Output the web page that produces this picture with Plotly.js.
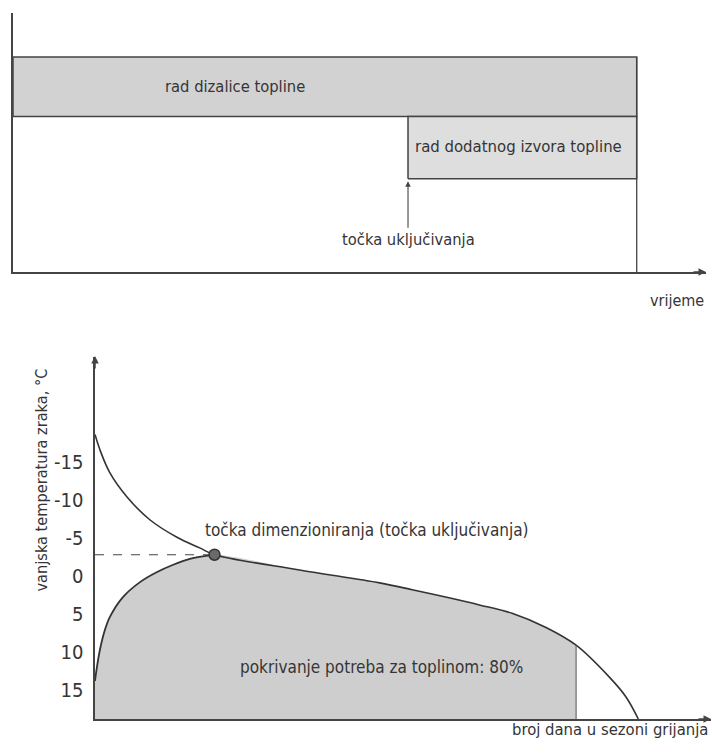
<!DOCTYPE html>
<html><head><meta charset="utf-8">
<script src="https://cdn.plot.ly/plotly-3.0.1.min.js"></script>
<style>html,body{margin:0;padding:0;background:#fff}</style>
</head><body><div id="chart" style="width:712px;height:754px"></div>
<script>
// ---------- data: top panel (operating phases over time) ----------
const phaseLabels = ['rad dizalice topline', 'rad dodatnog izvora topline'];
const phaseStart = [0, 57];
const phaseEnd = [90, 90];
const phaseLow = [60, 36];
const phaseHigh = [83, 60];
const switchLabel = 'točka uključivanja';
const switchTime = 57;

// ---------- data: bottom panel (temperature duration curve) ----------
const tempTicks = [-15, -10, -5, 0, 5, 10, 15];
const upperDays = [0, 0.8, 2.4, 5.2, 8.9, 13.3, 17, 19.4, 33.2, 46.2, 51.5, 57.1, 62.4, 67.7, 73.3, 78.1, 83.5, 86.2, 88.2];
const upperTemp = [-18.6, -16.6, -13.6, -10.4, -7.4, -5.1, -3.7, -2.8, -0.8, 0.9, 1.8, 2.8, 3.8, 4.9, 6.8, 9.1, 13.3, 15.9, 18.8];
const lowerDays = [0, 0.16, 0.8, 1.6, 2.4, 4.5, 7.3, 10.0, 12.6, 15.4, 19.4];
const lowerTemp = [13.8, 12.8, 9.7, 7.1, 5.4, 2.8, 0.8, -0.5, -1.45, -2.25, -2.8];
const designDay = 19.4;
const designTemp = -2.8;
const coverageDay = 78.1;
const coverageTemp = 9.1;
const coverageLabel = 'pokrivanje potreba za toplinom: 80%';
const designLabel = 'točka dimenzioniranja (točka uključivanja)';
const yTitle = 'vanjska temperatura zraka, °C';
const xTitleTop = 'vrijeme';
const xTitleBottom = 'broj dana u sezoni grijanja';

// ---------- styles ----------
const FONT = '"Liberation Sans Narrow", "DejaVu Sans Condensed", "Roboto Condensed", "Arial Narrow", sans-serif';
const TXT = '#353535';
const LINE = '#444';
const phaseColors = ['#d2d2d2', '#dedede'];
const W = 712, H = 754;
const px = v => v / W;
const py = v => 1 - v / H;

const Y2MAX = 18.8, Y2MIN = -28.8;

const traces = [];
// phase boxes
for (let i = 0; i < phaseLabels.length; i++) {
  traces.push({
    type: 'scatter', mode: 'lines', xaxis: 'x', yaxis: 'y',
    x: [phaseStart[i], phaseEnd[i], phaseEnd[i], phaseStart[i], phaseStart[i]],
    y: [phaseLow[i], phaseLow[i], phaseHigh[i], phaseHigh[i], phaseLow[i]],
    fill: 'toself', fillcolor: phaseColors[i],
    line: {color: LINE, width: 1.5}, hoverinfo: 'skip'
  });
}
// right end boundary line
traces.push({
  type: 'scatter', mode: 'lines', xaxis: 'x', yaxis: 'y',
  x: [phaseEnd[0], phaseEnd[0]], y: [0, phaseHigh[0]],
  line: {color: LINE, width: 1.3}, hoverinfo: 'skip'
});

// bottom: covered area = region between the x-axis and the boundary curve
const boundX = lowerDays.slice();
const boundY = lowerTemp.slice();
for (let i = 0; i < upperDays.length; i++) {
  if (upperDays[i] > designDay && upperDays[i] <= coverageDay) { boundX.push(upperDays[i]); boundY.push(upperTemp[i]); }
}
traces.push({
  type: 'scatter', mode: 'lines', xaxis: 'x2', yaxis: 'y2',
  x: [0, coverageDay], y: [Y2MAX, Y2MAX],
  line: {width: 0, color: 'rgba(0,0,0,0)'}, hoverinfo: 'skip'
});
traces.push({
  type: 'scatter', mode: 'lines', xaxis: 'x2', yaxis: 'y2',
  x: boundX, y: boundY, fill: 'tonexty', fillcolor: '#cecece',
  line: {width: 0, color: 'rgba(0,0,0,0)', shape: 'spline', smoothing: 0.9}, hoverinfo: 'skip'
});
// lower curve
traces.push({
  type: 'scatter', mode: 'lines', xaxis: 'x2', yaxis: 'y2',
  x: lowerDays, y: lowerTemp,
  line: {color: '#333', width: 1.8, shape: 'spline', smoothing: 0.9}, hoverinfo: 'skip'
});
// upper curve
traces.push({
  type: 'scatter', mode: 'lines', xaxis: 'x2', yaxis: 'y2',
  x: upperDays, y: upperTemp,
  line: {color: '#333', width: 1.6, shape: 'spline', smoothing: 1.0}, hoverinfo: 'skip'
});
// dashed design line
traces.push({
  type: 'scatter', mode: 'lines', xaxis: 'x2', yaxis: 'y2',
  x: [0, designDay], y: [designTemp, designTemp],
  line: {color: '#444', width: 1.2, dash: 'dash'}, hoverinfo: 'skip'
});
// coverage vertical line
traces.push({
  type: 'scatter', mode: 'lines', xaxis: 'x2', yaxis: 'y2',
  x: [coverageDay, coverageDay], y: [Y2MAX, coverageTemp],
  line: {color: '#555', width: 1}, hoverinfo: 'skip'
});
// design point
traces.push({
  type: 'scatter', mode: 'markers', xaxis: 'x2', yaxis: 'y2',
  x: [designDay], y: [designTemp],
  marker: {size: 11, color: '#6a6a6a', line: {color: '#333', width: 1.5}}, hoverinfo: 'skip'
});

const txtFont = size => ({family: FONT, size: size, color: TXT});

const annotations = [
  // top panel labels
  {xref: 'x', yref: 'y', x: 32, y: 71.5, text: phaseLabels[0], showarrow: false, font: txtFont(16.4)},
  {xref: 'x', yref: 'y', x: 73, y: 48.3, text: phaseLabels[1], showarrow: false, font: txtFont(16.6)},
  {xref: 'x', yref: 'y', x: switchTime, y: 12.4, text: switchLabel, showarrow: false, font: txtFont(16.4)},
  {xref: 'x', yref: 'y', axref: 'x', ayref: 'y', x: switchTime, y: 35, ax: switchTime, ay: 16.5,
   text: '', showarrow: true, arrowhead: 2, arrowsize: 1, arrowwidth: 1.1, arrowcolor: LINE},
  // top x arrow
  {xref: 'paper', yref: 'paper', x: px(706), y: py(272), ax: -14, ay: 0, text: '', showarrow: true,
   arrowhead: 2, arrowsize: 1, arrowwidth: 1.5, arrowcolor: LINE},
  {xref: 'paper', yref: 'paper', x: px(706), y: py(300), text: xTitleTop, showarrow: false,
   xanchor: 'right', font: txtFont(16)},
  // bottom panel
  {xref: 'x2', yref: 'y2', x: 44.2, y: -6.1, text: designLabel, showarrow: false, font: txtFont(17)},
  {xref: 'x2', yref: 'y2', x: 46.5, y: 12, text: coverageLabel, showarrow: false, font: txtFont(17)},
  {xref: 'paper', yref: 'paper', x: px(95), y: py(356), ax: 0, ay: 14, text: '', showarrow: true,
   arrowhead: 2, arrowsize: 1, arrowwidth: 1.5, arrowcolor: LINE},
  {xref: 'paper', yref: 'paper', x: px(711), y: py(719), ax: -14, ay: 0, text: '', showarrow: true,
   arrowhead: 2, arrowsize: 1, arrowwidth: 1.5, arrowcolor: LINE},
  {xref: 'paper', yref: 'paper', x: px(710), y: py(741), text: xTitleBottom, showarrow: false,
   xanchor: 'right', font: txtFont(16.5)},
  {xref: 'paper', yref: 'paper', x: px(29), y: py(480), text: yTitle, showarrow: false,
   textangle: -90, font: txtFont(16.2)}
];

const layout = {
  width: W, height: H,
  margin: {l: 0, r: 0, t: 0, b: 0},
  paper_bgcolor: '#fff', plot_bgcolor: 'rgba(0,0,0,0)',
  showlegend: false,
  xaxis: {domain: [px(13), px(706)], range: [0, 100], showgrid: false, zeroline: false,
          showticklabels: false, ticks: '', showline: true, linecolor: LINE, linewidth: 1.6, anchor: 'y'},
  yaxis: {domain: [py(272), py(13)], range: [0, 100], showgrid: false, zeroline: false,
          showticklabels: false, ticks: '', showline: true, linecolor: LINE, linewidth: 1.6, anchor: 'x'},
  xaxis2: {domain: [px(95), px(711)], range: [0, 100], showgrid: false, zeroline: false,
           showticklabels: false, ticks: '', showline: true, linecolor: LINE, linewidth: 1.8, anchor: 'y2'},
  yaxis2: {domain: [py(719), py(357)], range: [Y2MAX, Y2MIN], showgrid: false, zeroline: false,
           tickmode: 'array', tickvals: tempTicks, ticktext: tempTicks.map(String), ticks: '',
           ticklabelstandoff: 6,
           tickfont: {family: FONT, size: 20, color: TXT},
           showline: true, linecolor: LINE, linewidth: 1.6, anchor: 'x2'},
  annotations: annotations
};

Plotly.newPlot('chart', traces, layout, {displayModeBar: false, staticPlot: true});
</script></body></html>
